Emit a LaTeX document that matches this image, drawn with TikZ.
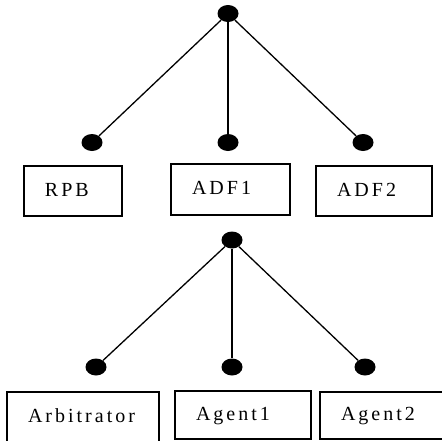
\documentclass[tikz,border=0pt]{standalone}
\usepackage{fontspec}
\setmainfont{Liberation Serif}[LetterSpace=15]
\usepackage{tikz}
\usetikzlibrary{shapes.geometric}

\tikzset{
  dot/.style={ellipse,fill=black,inner sep=0pt,minimum width=21pt,minimum height=17pt},
  box/.style={draw,line width=1.1pt,rectangle,align=left,inner xsep=21pt,inner ysep=0pt,
    text height=14pt,text depth=4pt,font=\fontsize{20pt}{22pt}\selectfont},
  edge/.style={line width=1.3pt}
}

\begin{document}
\begin{tikzpicture}[x=1pt,y=-1pt,node distance=129pt]
      \useasboundingbox (0,0) rectangle (442,440);

      % upper tree
      \node[dot] (r1) at (228,13.5) {};
      \node[dot,below of=r1] (m1) {};
      \node[dot,below of=r1,xshift=-136pt] (l1) {};
      \node[dot,below of=r1,xshift=135pt] (q1) {};

      \node[box,text width=56pt,minimum height=50pt] (rpb) at (73,191) {RPB};
      \node[box,text width=77pt,minimum height=51pt] (adf1) at (230.5,189.5) {ADF1};
      \node[box,text width=74pt,minimum height=50pt] (adf2) at (374,191) {ADF2};

      \draw[edge] (r1) -- (l1);
      \draw[edge] (r1) -- (m1);
      \draw[edge] (r1) -- (q1);

      % lower tree
      \node[dot] (r2) at (232,240) {};
      \node[dot,below of=r2,node distance=127pt] (m2) {};
      \node[dot,below of=r2,node distance=127pt,xshift=-136pt] (l2) {};
      \node[dot,below of=r2,node distance=127pt,xshift=133pt] (q2) {};

      \node[box,text width=110pt,minimum height=50pt] (arb) at (83,417) {\mbox{Arbitrator}};
      \node[box,text width=94pt,minimum height=48pt] (ag1) at (243,415) {Agent1};
      \node[box,text width=83pt,minimum height=47pt] (ag2) at (382.5,415.5) {Agent2};

      \draw[edge] (r2) -- (l2);
      \draw[edge] (r2) -- (m2);
      \draw[edge] (r2) -- (q2);
\end{tikzpicture}
\end{document}
